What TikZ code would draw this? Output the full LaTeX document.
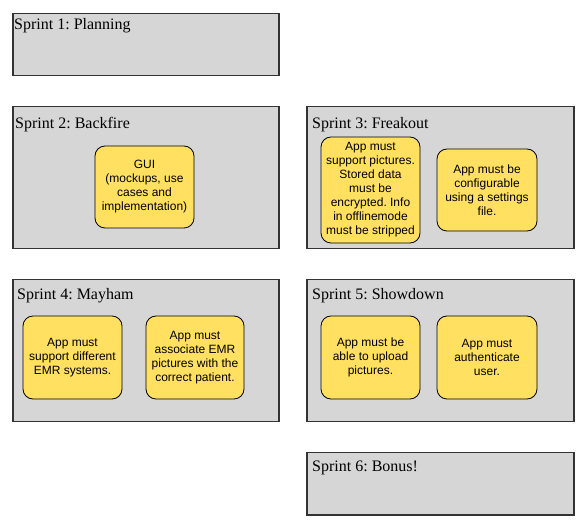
\documentclass[tikz,border=0pt]{standalone}
\usepackage{fontspec}
\setmainfont{Liberation Serif}
\newfontfamily\boxfont{Liberation Sans}
\definecolor{sprintgrey}{HTML}{D6D6D6}
\definecolor{sprintborder}{HTML}{333333}
\definecolor{taskyellow}{HTML}{FFE061}
\frenchspacing
\begin{document}
\begin{tikzpicture}[x=1pt,y=-1pt,
  sprint/.style={draw=sprintborder,fill=sprintgrey,line width=1.5pt},
  sprinttitle/.style={anchor=north west,inner sep=0pt,font=\fontsize{16}{18}\selectfont},
  task/.style={draw=black,fill=taskyellow,line width=0.8pt,rounded corners=10pt,
    align=center,font=\boxfont\fontsize{12}{14}\selectfont,inner sep=0pt}]
\useasboundingbox (0,0) rectangle (584,526);
% sprint frames
\node[sprint,minimum width=266pt,minimum height=62pt,anchor=north west] (s1) at (12,13) {};
\node[sprint,minimum width=266pt,minimum height=142pt,anchor=north west] (s2) at (12,106) {};
\node[sprint,minimum width=267pt,minimum height=142pt,anchor=north west] (s3) at (306,106) {};
\node[sprint,minimum width=266pt,minimum height=142pt,anchor=north west] (s4) at (12,279) {};
\node[sprint,minimum width=267pt,minimum height=142pt,anchor=north west] (s5) at (306,279) {};
\node[sprint,minimum width=267pt,minimum height=62pt,anchor=north west] (s6) at (306,452) {};
% titles
\node[sprinttitle] (t1) at (14,18) {Sprint 1: Planning};
\node[sprinttitle] (t2) at (15,117) {Sprint 2: Backfire};
\node[sprinttitle] (t3) at (312,117) {Sprint 3: Freakout};
\node[sprinttitle] (t4) at (17,288) {Sprint 4: Mayham};
\node[sprinttitle] (t5) at (312,288) {Sprint 5: Showdown};
\node[sprinttitle] (t6) at (312,461) {Sprint 6: Bonus!};
% tasks
\node[task,minimum width=99pt,minimum height=82pt] (gui) at (144.5,187) {GUI\\(mockups, use\\cases and\\implementation)};
\node[task,minimum width=99pt,minimum height=106pt] (pics) at (370.5,190) {App must\\support pictures.\\Stored data\\must be\\encrypted. Info\\in offlinemode\\must be stripped};
\node[task,minimum width=100pt,minimum height=82pt] (conf) at (487,190) {App must be\\configurable\\using a settings\\file.};
\node[task,minimum width=99pt,minimum height=83pt] (emr) at (72.5,357.5) {App must\\support different\\EMR systems.};
\node[task,minimum width=98pt,minimum height=83pt] (assoc) at (195,357.5) {App must\\associate EMR\\pictures with the\\correct patient.};
\node[task,minimum width=99pt,minimum height=83pt] (upload) at (370.5,357.5) {App must be\\able to upload\\pictures.};
\node[task,minimum width=100pt,minimum height=83pt] (auth) at (487,357.5) {App must\\authenticate\\user.};
\end{tikzpicture}
\end{document}
